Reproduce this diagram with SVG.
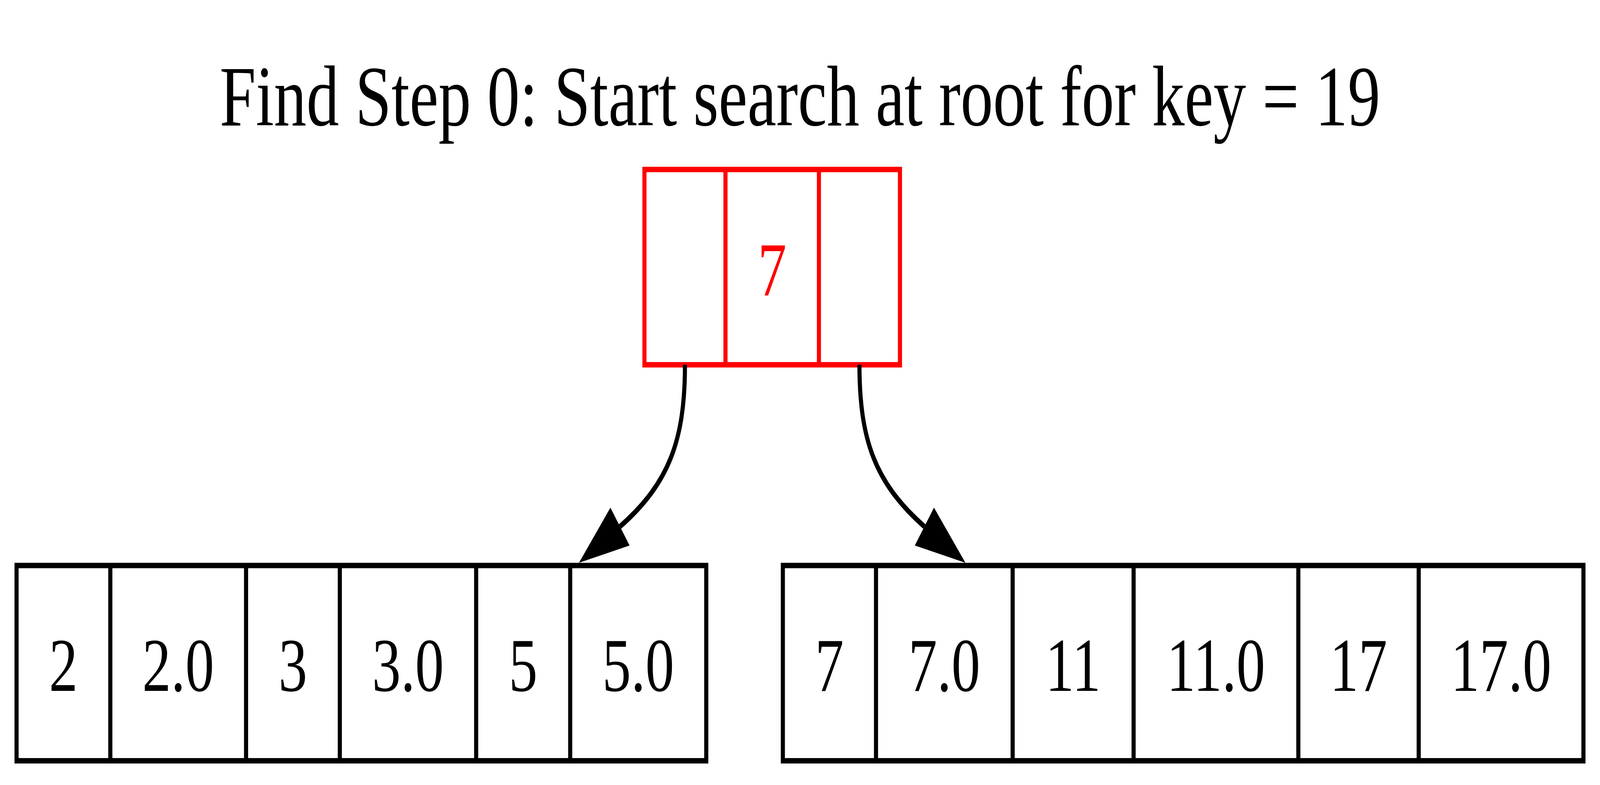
<svg xmlns="http://www.w3.org/2000/svg" width="5410" height="2010" viewBox="0 0 5410 2010" preserveAspectRatio="none">
<style>
@media (max-width: 5400px) { svg:root { width: 100vw; height: 100vh; display: block; } }
.title{font-family:"Liberation Serif","Times New Roman",serif;font-size:220px;text-anchor:middle;fill:#000}
.lbl{font-family:"Liberation Serif","Times New Roman",serif;font-size:194.4px;text-anchor:middle;fill:#000}
.box{fill:none;stroke:#000;stroke-width:13.9}
.div{stroke:#000;stroke-width:13.9}
.hl .box,.hl .div{stroke:#ff0000}
.hl .lbl{fill:#ff0000}
.edge{fill:none;stroke:#000;stroke-width:13.9}
</style>
<defs>
<marker id="arrow" markerUnits="userSpaceOnUse" orient="auto" refX="0" refY="0" markerWidth="400" markerHeight="400" viewBox="-200 -200 400 400" overflow="visible">
<path d="M0,-58.3 L166.8,0 L0,58.3 Z" fill="#000"/>
</marker>
</defs>
<rect width="5410" height="2010" fill="#fff"/>
<text class="title" x="2705" y="321">Find Step 0: Start search at root for key = 19</text>

<g id="root" class="hl">
<rect class="box" x="2179" y="434" width="864" height="500"/>
<line class="div" x1="2453" y1="434" x2="2453" y2="934"/>
<line class="div" x1="2769" y1="434" x2="2769" y2="934"/>
<text class="lbl" x="2611" y="756">7</text>
</g>

<g id="leaf_left">
<rect class="box" x="56" y="1448" width="2332" height="500"/>
<line class="div" x1="373" y1="1448" x2="373" y2="1948"/>
<line class="div" x1="832" y1="1448" x2="832" y2="1948"/>
<line class="div" x1="1149" y1="1448" x2="1149" y2="1948"/>
<line class="div" x1="1610" y1="1448" x2="1610" y2="1948"/>
<line class="div" x1="1928" y1="1448" x2="1928" y2="1948"/>
<text class="lbl" x="214.5" y="1769">2</text>
<text class="lbl" x="602.5" y="1769">2.0</text>
<text class="lbl" x="990.5" y="1769">3</text>
<text class="lbl" x="1379.5" y="1769">3.0</text>
<text class="lbl" x="1769" y="1769">5</text>
<text class="lbl" x="2158" y="1769">5.0</text>
</g>

<g id="leaf_right">
<rect class="box" x="2647" y="1448" width="2707" height="500"/>
<line class="div" x1="2962" y1="1448" x2="2962" y2="1948"/>
<line class="div" x1="3424" y1="1448" x2="3424" y2="1948"/>
<line class="div" x1="3833" y1="1448" x2="3833" y2="1948"/>
<line class="div" x1="4390" y1="1448" x2="4390" y2="1948"/>
<line class="div" x1="4797" y1="1448" x2="4797" y2="1948"/>
<text class="lbl" x="2804.5" y="1769">7</text>
<text class="lbl" x="3193" y="1769">7.0</text>
<text class="lbl" x="3628.5" y="1769">11</text>
<text class="lbl" x="4111.5" y="1769">11.0</text>
<text class="lbl" x="4593.5" y="1769">17</text>
<text class="lbl" x="5075.5" y="1769">17.0</text>
</g>

<g id="edges">
<path class="edge" d="M2316,934 C2316,1125 2263.8,1236.3 2096.35,1348.3" marker-end="url(#arrow)"/>
<path class="edge" d="M2906,934 C2906,1125 2958.2,1236.3 3125.65,1348.3" marker-end="url(#arrow)"/>
</g>
</svg>
